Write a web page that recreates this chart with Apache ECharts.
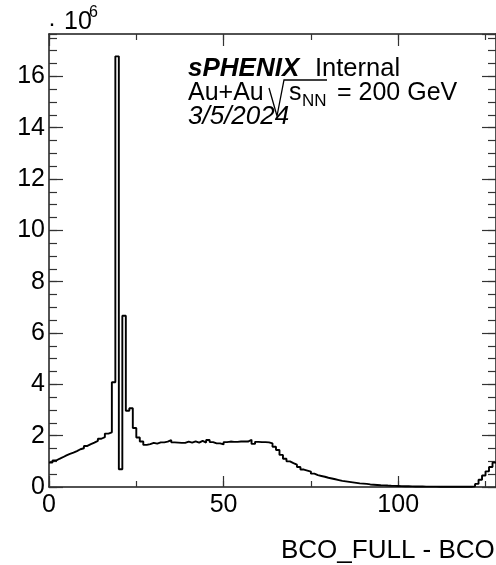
<!DOCTYPE html>
<html><head><meta charset="utf-8">
<script src="https://cdn.jsdelivr.net/npm/echarts@6/dist/echarts.min.js"></script>
<style>html,body{margin:0;padding:0;background:#fff}#c{width:496px;height:565px}</style>
</head><body><div id="c"></div>
<script>
// Histogram: bins of width 1 starting at 0; counts in units of 10^6
const binLowEdge = 0;
const binWidth = 1;
const counts = [
  0.95, 1.03, 1.10, 1.16, 1.23, 1.29, 1.34, 1.40, 1.47, 1.51,
  1.60, 1.67, 1.73, 1.80, 1.88, 1.94, 2.08, 2.13, 4.08, 16.78,
  0.69, 6.67, 2.97, 3.07, 2.30, 1.93, 1.77, 1.64, 1.67, 1.72,
  1.69, 1.74, 1.74, 1.77, 1.83, 1.74, 1.73, 1.72, 1.72, 1.77,
  1.73, 1.78, 1.73, 1.80, 1.73, 1.83, 1.75, 1.70, 1.70, 1.66,
  1.75, 1.77, 1.76, 1.76, 1.77, 1.77, 1.77, 1.84, 1.68, 1.76,
  1.75, 1.75, 1.74, 1.70, 1.57, 1.44, 1.25, 1.10, 1.00, 0.93,
  0.87, 0.78, 0.68, 0.64, 0.60, 0.52, 0.46, 0.43, 0.40, 0.36,
  0.33, 0.30, 0.27, 0.24, 0.22, 0.20, 0.18, 0.16, 0.14, 0.13,
  0.12, 0.10, 0.09, 0.08, 0.07, 0.065, 0.056, 0.05, 0.045, 0.04,
  0.035, 0.03, 0.028, 0.025, 0.022, 0.02, 0.018, 0.016, 0.015, 0.014,
  0.013, 0.012, 0.011, 0.01, 0.01, 0.01, 0.01, 0.01, 0.01, 0.01,
  0.012, 0.025, 0.12, 0.28, 0.45, 0.61, 0.78, 0.95
];
const xTickLabels = [0, 50, 100];
const yTickLabels = [0, 2, 4, 6, 8, 10, 12, 14, 16];
const xRange = [0, 128];
const yRange = [0, 17.65];
const xTitle = 'BCO_FULL - BCO';

const pts = counts.map((v, i) => [binLowEdge + i * binWidth, v]);
pts.push([binLowEdge + counts.length * binWidth, counts[counts.length - 1]]);

const FONT = 'Liberation Sans';
const lineC = '#1a1a1a';
const tickC = '#333';

function xAx(pos, interval, len, labels, line) {
  return {
    type: 'value', position: pos, min: xRange[0], max: xRange[1], interval: interval,
    axisLine: { show: line, onZero: false, lineStyle: { color: lineC, width: 1.5 } },
    axisTick: { show: true, inside: true, length: len, lineStyle: { color: tickC, width: 1.2 } },
    axisLabel: labels ? {
      show: true, margin: 6, fontFamily: FONT, fontSize: 25, color: '#000', showMaxLabel: false,
      formatter: v => xTickLabels.indexOf(v) >= 0 ? String(v) : ''
    } : { show: false },
    splitLine: { show: false }
  };
}
function yAx(pos, interval, len, labels, line) {
  return {
    type: 'value', position: pos, min: yRange[0], max: yRange[1], interval: interval,
    axisLine: { show: line, onZero: false, lineStyle: { color: lineC, width: 1.5 } },
    axisTick: { show: true, inside: true, length: len, lineStyle: { color: tickC, width: 1.2 } },
    axisLabel: labels ? {
      show: true, margin: 4, fontFamily: FONT, fontSize: 25, color: '#000', showMaxLabel: false,
      formatter: v => yTickLabels.indexOf(v) >= 0 ? String(v) : ''
    } : { show: false },
    splitLine: { show: false }
  };
}

const chart = echarts.init(document.getElementById('c'), null, { renderer: 'canvas' });
chart.setOption({
  backgroundColor: '#fff',
  animation: false,
  grid: { left: 49, top: 34, right: 0, bottom: 78, containLabel: false },
  xAxis: [
    xAx('bottom', 50, 11, true, true),
    xAx('bottom', 25, 6, false, false),
    xAx('top', 50, 12, false, true),
    xAx('top', 25, 6, false, false)
  ],
  yAxis: [
    yAx('left', 2, 14, true, true),
    yAx('left', 0.5, 8, false, false),
    yAx('right', 2, 14, false, true),
    yAx('right', 0.5, 8, false, false)
  ],
  series: [{
    type: 'line', step: 'end', xAxisIndex: 0, yAxisIndex: 0,
    data: pts, showSymbol: false, clip: true,
    lineStyle: { color: '#000', width: 1.9 }
  }],
  graphic: [
    { type: 'text', left: 48, top: 12, style: { text: '·', font: '24px "Liberation Sans"', fill: '#000' } },
    { type: 'text', x: 64, y: 22, style: { text: '10', font: '25px "Liberation Sans"', fill: '#000', verticalAlign: 'middle' } },
    { type: 'text', x: 89, y: 13, style: { text: '6', font: '16px "Liberation Sans"', fill: '#000', verticalAlign: 'middle' } },

    { type: 'text', x: 188, y: 69, style: { text: 'sPHENIX', font: 'italic bold 26px "Liberation Sans"', fill: '#000', verticalAlign: 'middle' } },
    { type: 'text', x: 315, y: 69, style: { text: 'Internal', font: '25.5px "Liberation Sans"', fill: '#000', verticalAlign: 'middle' } },

    { type: 'text', x: 188, y: 93, style: { text: 'Au+Au', font: '25px "Liberation Sans"', fill: '#000', verticalAlign: 'middle' } },
    { type: 'polyline', shape: { points: [[269, 88], [277, 116], [284, 80], [327, 80]] }, style: { stroke: '#000', lineWidth: 1.3, fill: null } },
    { type: 'text', x: 289, y: 93, style: { text: 's', font: '25px "Liberation Sans"', fill: '#000', verticalAlign: 'middle' } },
    { type: 'text', x: 302, y: 101.5, style: { text: 'NN', font: '17px "Liberation Sans"', fill: '#000', verticalAlign: 'middle' } },
    { type: 'text', x: 337, y: 93, style: { text: '= 200 GeV', font: '25px "Liberation Sans"', fill: '#000', verticalAlign: 'middle' } },

    { type: 'text', x: 188, y: 116.5, style: { text: '3/5/2024', font: 'italic 26px "Liberation Sans"', fill: '#000', verticalAlign: 'middle' } },

    { type: 'text', x: 281, y: 551, style: { text: xTitle, font: '26px "Liberation Sans"', fill: '#000', verticalAlign: 'middle' } }
  ]
});
</script>
</body></html>
